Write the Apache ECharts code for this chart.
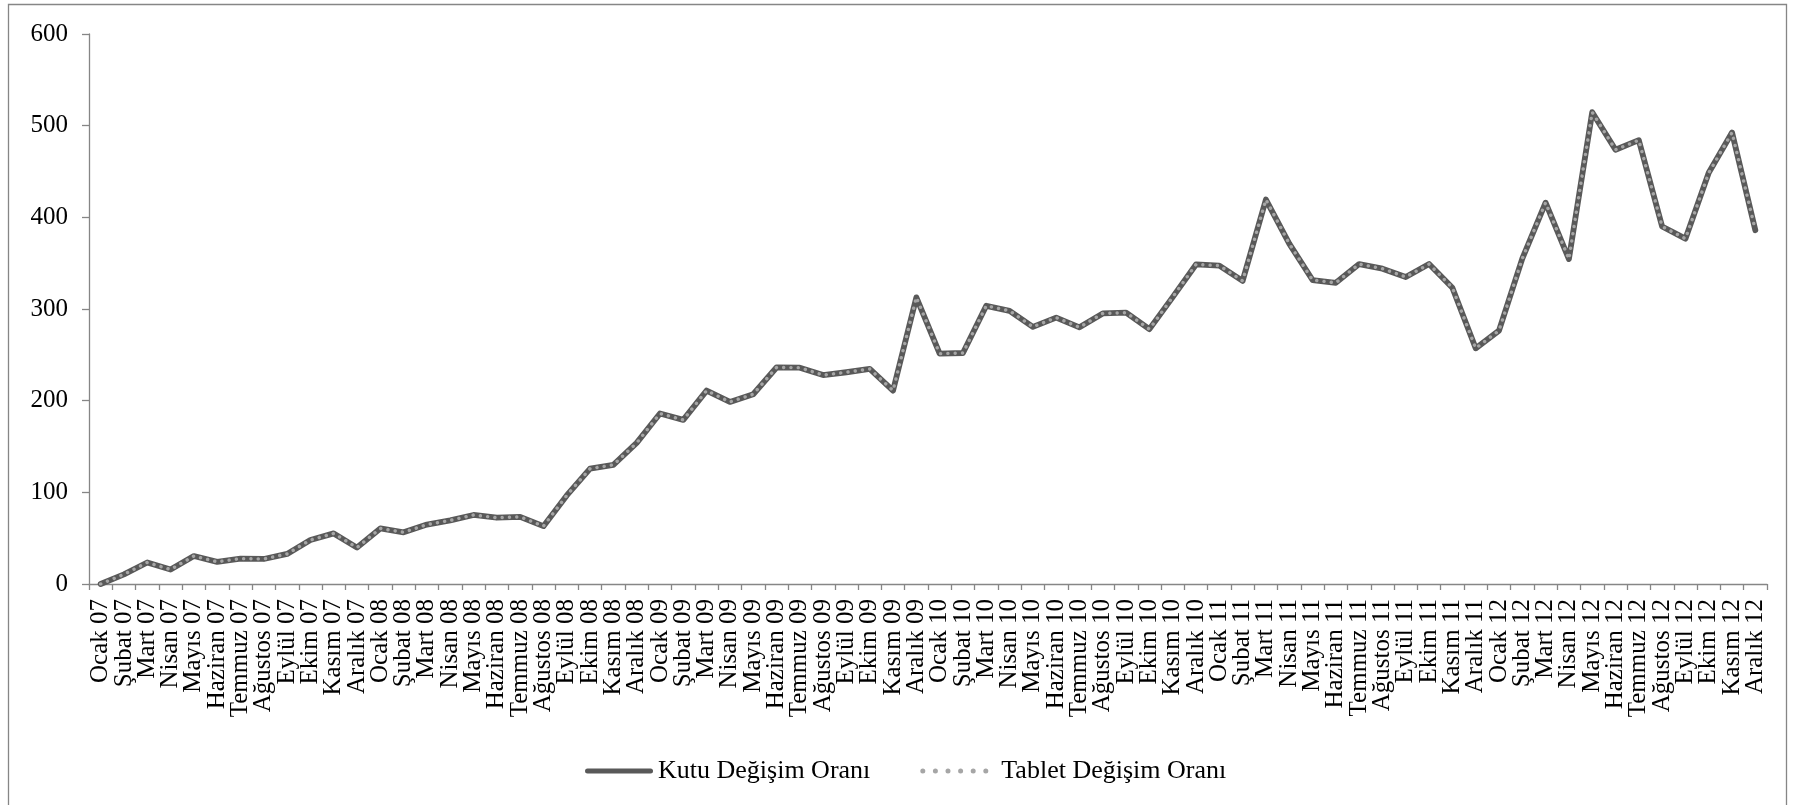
<!DOCTYPE html>
<html>
<head>
<meta charset="utf-8">
<style>
  html, body { margin: 0; padding: 0; background: #ffffff; }
  #chart { width: 1796px; height: 805px; }
</style>
<script src="https://cdn.jsdelivr.net/npm/echarts@6/dist/echarts.min.js"></script>
</head>
<body>
<div id="chart"></div>
<script>
// Month names and years used to build the category labels (Ocak 07 ... Aralık 12)
const months = ['Ocak', 'Şubat', 'Mart', 'Nisan', 'Mayıs', 'Haziran',
                'Temmuz', 'Ağustos', 'Eylül', 'Ekim', 'Kasım', 'Aralık'];
const years = ['07', '08', '09', '10', '11', '12'];

// Monthly change rates
const kutu = [
  0, 10.5, 23.5, 15.8, 30.5, 24.2, 27.7, 27.3, 32.8, 48, 55.2, 39.7,
  60.6, 56.4, 64.8, 69.4, 75.3, 72.3, 73.2, 63.1, 96.6, 125.8, 130, 153.9,
  186, 179, 211, 198.6, 207, 236.2, 236, 227.9, 231, 234.6, 211, 312.7,
  251.3, 252, 303.5, 298, 280.5, 290.6, 280, 295.2, 296, 278, 313, 348.6,
  347.4, 330.7, 419.4, 371.3, 331.6, 328.6, 349, 344, 334.9, 349, 323.2, 257.1,
  276.4, 355, 416, 354.5, 514.7, 473.7, 484.2, 390, 376.7, 448.6, 492.5, 385.9
];
const tablet = [
  0, 10.5, 23.5, 15.8, 30.5, 24.2, 27.7, 27.3, 32.8, 48, 55.2, 39.7,
  60.6, 56.4, 64.8, 69.4, 75.3, 72.3, 73.2, 63.1, 96.6, 125.8, 130, 153.9,
  186, 179, 211, 198.6, 207, 236.2, 236, 227.9, 231, 234.6, 211, 312.7,
  251.3, 252, 303.5, 298, 280.5, 290.6, 280, 295.2, 296, 278, 313, 348.6,
  347.4, 330.7, 419.4, 371.3, 331.6, 328.6, 349, 344, 334.9, 349, 323.2, 257.1,
  276.4, 355, 416, 354.5, 514.7, 473.7, 484.2, 390, 376.7, 448.6, 492.5, 385.9
];
const yTicks = { min: 0, max: 600, interval: 100 };

const categories = [];
years.forEach(y => months.forEach(m => categories.push(m + ' ' + y)));

const FONT = '"Liberation Serif", "Times New Roman", serif';
const AXIS_GRAY = '#868686';
const KUTU_COLOR = '#595959';
const TABLET_COLOR = '#a6a6a6';

// Legend keys: a round-capped bar for the solid series, a row of dots for the dotted one
const SOLID_KEY = 'path://M2.5,0 L65.5,0 A2.5,2.5 0 0 1 65.5,5 L2.5,5 A2.5,2.5 0 0 1 2.5,0 Z';
const DOT_KEY = 'path://' + [2.5, 15.1, 27.7, 40.3, 52.9, 65.5]
  .map(cx => `M${cx - 2.5},2.5 a2.5,2.5 0 1,0 5,0 a2.5,2.5 0 1,0 -5,0 Z`).join(' ');

const chart = echarts.init(document.getElementById('chart'), null, { renderer: 'canvas' });
chart.setOption({
  animation: false,
  backgroundColor: '#ffffff',
  textStyle: { fontFamily: FONT },
  graphic: [{
    type: 'rect',
    shape: { x: 8.5, y: 4.5, width: 1778, height: 900 },
    style: { fill: 'none', stroke: AXIS_GRAY, lineWidth: 1.3 },
    silent: true
  }],
  grid: { left: 89, right: 29, top: 34, bottom: 221 },
  legend: {
    left: 580,
    top: 753,
    itemWidth: 68,
    itemHeight: 6,
    itemGap: 50,
    textStyle: { fontFamily: FONT, fontSize: 26, color: '#000000' },
    data: [
      { name: 'Kutu Değişim Oranı', icon: SOLID_KEY, itemStyle: { color: KUTU_COLOR } },
      {
        name: 'Tablet Değişim Oranı', icon: DOT_KEY, itemStyle: { color: TABLET_COLOR },
        textStyle: { padding: [0, 0, 0, 8] }
      }
    ]
  },
  xAxis: {
    type: 'category',
    data: categories,
    boundaryGap: true,
    axisLine: { lineStyle: { color: AXIS_GRAY, width: 1.3 } },
    axisTick: { show: true, length: 6, lineStyle: { color: AXIS_GRAY, width: 1.3 }, interval: 0 },
    axisLabel: {
      interval: 0,
      rotate: 90,
      margin: 15,
      fontFamily: FONT,
      fontSize: 25,
      color: '#000000'
    },
    splitLine: { show: false }
  },
  yAxis: {
    type: 'value',
    min: yTicks.min,
    max: yTicks.max,
    interval: yTicks.interval,
    axisLine: { show: true, lineStyle: { color: AXIS_GRAY, width: 1.3 } },
    axisTick: { show: true, length: 7, lineStyle: { color: AXIS_GRAY, width: 1.3 } },
    axisLabel: { margin: 21, fontFamily: FONT, fontSize: 25, color: '#000000' },
    splitLine: { show: false }
  },
  series: [
    {
      name: 'Kutu Değişim Oranı',
      type: 'line',
      data: kutu,
      symbol: 'none',
      color: KUTU_COLOR,
      lineStyle: { color: KUTU_COLOR, width: 5.8, cap: 'round', join: 'round' },
      z: 2
    },
    {
      name: 'Tablet Değişim Oranı',
      type: 'line',
      data: tablet,
      symbol: 'none',
      color: TABLET_COLOR,
      lineStyle: { color: TABLET_COLOR, width: 3.4, type: [0.1, 7.2], cap: 'round', join: 'round' },
      z: 3
    }
  ]
});
</script>
</body>
</html>
